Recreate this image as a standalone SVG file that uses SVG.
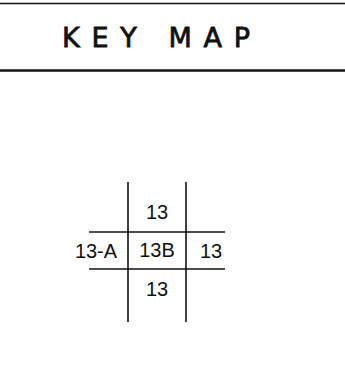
<svg xmlns="http://www.w3.org/2000/svg" width="345" height="370" viewBox="0 0 345 370">
<style>
.rule{stroke:#111;fill:none}
.grid{stroke:#111;stroke-width:1.6;fill:none}
.lbl{font-family:"Liberation Sans",Arial,sans-serif;font-size:20px;fill:#111;text-anchor:middle}
.title{font-family:"DejaVu Sans","Liberation Sans",sans-serif;font-size:27px;fill:#111;stroke:#111;stroke-width:0.8;letter-spacing:6px}
</style>
<rect width="345" height="370" fill="#fff"/>
<g id="header">
<line class="rule" x1="0" y1="3.5" x2="345" y2="3.5" stroke-width="1.6"/>
<line class="rule" x1="0" y1="70.5" x2="345" y2="70.5" stroke-width="2.6"/>
<text class="title" x="62" y="47" textLength="194" lengthAdjust="spacing">KEY MAP</text>
</g>
<g id="connectors">
<line class="grid" x1="128" y1="182" x2="128" y2="322"/>
<line class="grid" x1="186" y1="182" x2="186" y2="322"/>
<line class="grid" x1="89" y1="232" x2="225" y2="232"/>
<line class="grid" x1="89" y1="269" x2="225" y2="269"/>
</g>
<g id="n-top"><text class="lbl" x="157" y="219">13</text></g>
<g id="n-left"><text class="lbl" x="96" y="258">13-A</text></g>
<g id="n-center"><text class="lbl" x="157" y="257">13B</text></g>
<g id="n-right"><text class="lbl" x="211" y="258">13</text></g>
<g id="n-bottom"><text class="lbl" x="157" y="296">13</text></g>
</svg>
